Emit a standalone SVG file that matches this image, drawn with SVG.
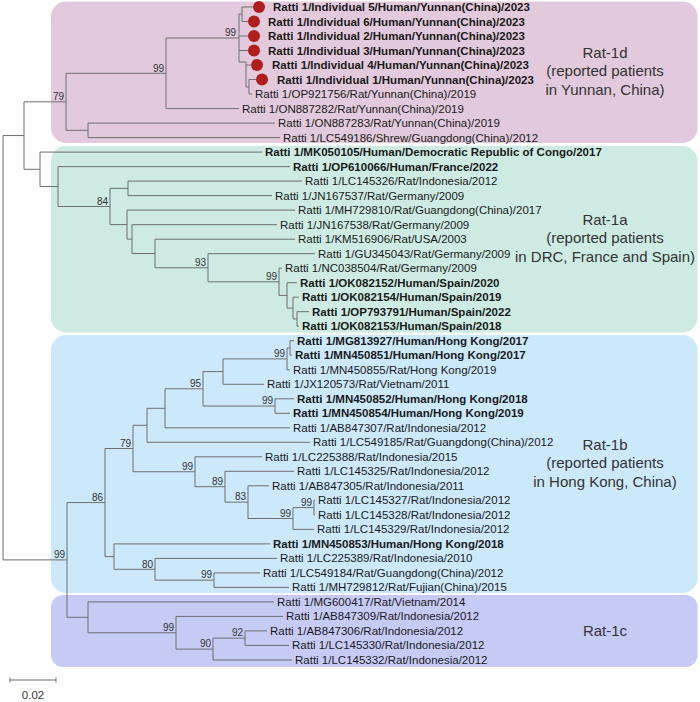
<svg xmlns="http://www.w3.org/2000/svg" width="700" height="702" viewBox="0 0 700 702">
<style>
text{font-family:"Liberation Sans",Arial,sans-serif}
.lf{font-size:11.5px;fill:#1a1a1a}
.b{font-weight:bold}
.bs{font-size:10px;fill:#333;text-anchor:end}
.lab{font-size:15px;fill:#333;text-anchor:middle}
.br{stroke:#6e6e6e;stroke-width:1;fill:none}
.dot{fill:#b11d1d}
</style>
<g id="clades">
<g id="rat1d"><rect x="51" y="1.5" width="646.5" height="141.5" rx="15" fill="#e2cadc"/>
<text class="lab" x="605" y="57.5">Rat-1d</text><text class="lab" x="605" y="76">(reported patients</text><text class="lab" x="605" y="94.5">in Yunnan, China)</text></g>
<g id="rat1a"><rect x="51" y="146" width="646.5" height="186.5" rx="15" fill="#cdebe3"/>
<text class="lab" x="605" y="224.5">Rat-1a</text><text class="lab" x="605" y="243">(reported patients</text><text class="lab" x="605" y="261.5">in DRC, France and Spain)</text></g>
<g id="rat1b"><rect x="51" y="335" width="646.5" height="258" rx="15" fill="#cce8fb"/>
<text class="lab" x="605" y="449.5">Rat-1b</text><text class="lab" x="605" y="468">(reported patients</text><text class="lab" x="605" y="486.5">in Hong Kong, China)</text></g>
<g id="rat1c"><rect x="51" y="595" width="646.5" height="72" rx="12" fill="#c6cbf6"/>
<text class="lab" x="605" y="635.5">Rat-1c</text></g>
</g>
<g id="connectors" class="br">
<path d="M3 135.55V559.9M24 101.8V169.3M66 73.3V130.35M166 38V108.6M239 14V62M242 7V21.5M246 62V87M249 79.5V94M88 123.1V137.6M40 152.1V186.55M58 166.6V206.5M110 188.35V224.6M128 181.1V195.6M127 210.1V239.1M132 224.7V253.5M155 239.2V267.75M208 253.7V281.8M279 268.2V295.4M287 282.7V308.1M293 297.2V318.95M297 311.7V326.2"/>
<path d="M67 502.55V617.3M105 448.5V556.6M133 425.3V471.75M147 408.3V442.3M165 388.8V427.8M203 371.6V406.05M223 358.9V384.3M287 348V369.8M290 340.7V355.2M275 398.8V413.3M195 456.8V486.7M225 471.3V502.15M248 485.8V518.5M293 507.6V529.4M314 500.3V514.9M114 543.9V569.3M155 558.4V580.15M214 572.9V587.4M88 601.9V632.75M176 616.4V649.1M213 638.15V660M245 630.9V645.4"/>
<path d="M3 135.55H24M3 559.9H67M24 101.8H66M24 169.3H40M66 73.3H166M66 130.35H88M166 38H239M239 14H242M239 62H246M246 87H249M40 186.55H58M58 206.5H110M110 188.35H128M110 224.6H127M127 239.1H132M132 253.5H155M155 267.75H208M208 281.8H279M279 295.4H287M287 308.1H293M293 318.95H297"/>
<path d="M67 502.55H105M67 617.3H88M105 448.5H133M105 556.6H114M133 425.3H147M133 471.75H195M147 408.3H165M165 388.8H203M203 371.6H223M203 406.05H275M223 358.9H287M287 348H290M195 486.7H225M225 502.15H248M248 518.5H293M293 507.6H314M114 569.3H155M155 580.15H214M88 632.75H176M176 649.1H213M213 638.15H245"/>
<path d="M242 7H253M242 21.5H248M239 36H248M239 50.5H248M246 65H251M249 79.5H256M249 94H252M166 108.6H239M88 123.1H275M88 137.6H280M40 152.1H262M58 166.6H290M128 181.1H302M128 195.6H272M127 210.1H295M132 224.7H277M155 239.2H295M208 253.7H315M279 268.2H282M287 282.7H297M293 297.2H299M297 311.7H309M297 326.2H299"/>
<path d="M290 340.7H294M290 355.2H292M287 369.8H290M223 384.3H264M275 398.8H294M275 413.3H290M165 427.8H290M147 442.3H310M195 456.8H262M225 471.3H294M248 485.8H269M314 500.3H315M314 514.9H315M293 529.4H314M114 543.9H270M155 558.4H277M214 572.9H260M214 587.4H289M88 601.9H274M176 616.4H283M245 630.9H267M245 645.4H289M213 660H292"/>
</g>
<g id="bootstrap">
<text class="bs" x="64" y="100">79</text><text class="bs" x="164" y="71.5">99</text><text class="bs" x="236" y="36">99</text>
<text class="bs" x="108" y="204.5">84</text><text class="bs" x="206" y="266">93</text><text class="bs" x="277" y="280">99</text>
<text class="bs" x="285" y="357">99</text><text class="bs" x="201" y="387">95</text><text class="bs" x="273" y="404">99</text>
<text class="bs" x="131" y="446.5">79</text><text class="bs" x="193" y="470">99</text><text class="bs" x="223" y="485">89</text>
<text class="bs" x="246" y="500">83</text><text class="bs" x="291" y="516.5">99</text><text class="bs" x="312" y="505.5">99</text>
<text class="bs" x="103" y="500.5">86</text><text class="bs" x="65" y="558">99</text><text class="bs" x="153" y="567.5">80</text>
<text class="bs" x="212" y="578">99</text><text class="bs" x="174" y="631">99</text><text class="bs" x="211" y="647">90</text><text class="bs" x="243" y="636">92</text>
</g>
<g id="leaves">
<g id="l1"><circle class="dot" cx="259" cy="7" r="6"/><text class="lf b" x="273" y="11">Ratti 1/Individual 5/Human/Yunnan(China)/2023</text></g>
<g id="l2"><circle class="dot" cx="254" cy="21.5" r="6"/><text class="lf b" x="268" y="25.5">Ratti 1/Individual 6/Human/Yunnan(China)/2023</text></g>
<g id="l3"><circle class="dot" cx="254" cy="36" r="6"/><text class="lf b" x="268" y="40">Ratti 1/Individual 2/Human/Yunnan(China)/2023</text></g>
<g id="l4"><circle class="dot" cx="254" cy="50.5" r="6"/><text class="lf b" x="268" y="54.5">Ratti 1/Individual 3/Human/Yunnan(China)/2023</text></g>
<g id="l5"><circle class="dot" cx="257" cy="65" r="6"/><text class="lf b" x="272" y="69">Ratti 1/Individual 4/Human/Yunnan(China)/2023</text></g>
<g id="l6"><circle class="dot" cx="262" cy="79.5" r="6"/><text class="lf b" x="277" y="83.5">Ratti 1/Individual 1/Human/Yunnan(China)/2023</text></g>
<g id="l7"><text class="lf" x="255" y="98">Ratti 1/OP921756/Rat/Yunnan(China)/2019</text></g>
<g id="l8"><text class="lf" x="242" y="112.6">Ratti 1/ON887282/Rat/Yunnan(China)/2019</text></g>
<g id="l9"><text class="lf" x="278" y="127.1">Ratti 1/ON887283/Rat/Yunnan(China)/2019</text></g>
<g id="l10"><text class="lf" x="283" y="141.6">Ratti 1/LC549186/Shrew/Guangdong(China)/2012</text></g>
<g id="l11"><text class="lf b" x="265" y="156.1">Ratti 1/MK050105/Human/Democratic Republic of Congo/2017</text></g>
<g id="l12"><text class="lf b" x="293" y="170.6">Ratti 1/OP610066/Human/France/2022</text></g>
<g id="l13"><text class="lf" x="305" y="185.1">Ratti 1/LC145326/Rat/Indonesia/2012</text></g>
<g id="l14"><text class="lf" x="275" y="199.6">Ratti 1/JN167537/Rat/Germany/2009</text></g>
<g id="l15"><text class="lf" x="298" y="214.1">Ratti 1/MH729810/Rat/Guangdong(China)/2017</text></g>
<g id="l16"><text class="lf" x="280" y="228.7">Ratti 1/JN167538/Rat/Germany/2009</text></g>
<g id="l17"><text class="lf" x="298" y="243.2">Ratti 1/KM516906/Rat/USA/2003</text></g>
<g id="l18"><text class="lf" x="318" y="257.7">Ratti 1/GU345043/Rat/Germany/2009</text></g>
<g id="l19"><text class="lf" x="285" y="272.2">Ratti 1/NC038504/Rat/Germany/2009</text></g>
<g id="l20"><text class="lf b" x="300" y="286.7">Ratti 1/OK082152/Human/Spain/2020</text></g>
<g id="l21"><text class="lf b" x="302" y="301.2">Ratti 1/OK082154/Human/Spain/2019</text></g>
<g id="l22"><text class="lf b" x="312" y="315.7">Ratti 1/OP793791/Human/Spain/2022</text></g>
<g id="l23"><text class="lf b" x="302" y="330.2">Ratti 1/OK082153/Human/Spain/2018</text></g>
<g id="l24"><text class="lf b" x="297" y="344.7">Ratti 1/MG813927/Human/Hong Kong/2017</text></g>
<g id="l25"><text class="lf b" x="295" y="359.2">Ratti 1/MN450851/Human/Hong Kong/2017</text></g>
<g id="l26"><text class="lf" x="293" y="373.8">Ratti 1/MN450855/Rat/Hong Kong/2019</text></g>
<g id="l27"><text class="lf" x="267" y="388.3">Ratti 1/JX120573/Rat/Vietnam/2011</text></g>
<g id="l28"><text class="lf b" x="297" y="402.8">Ratti 1/MN450852/Human/Hong Kong/2018</text></g>
<g id="l29"><text class="lf b" x="293" y="417.3">Ratti 1/MN450854/Human/Hong Kong/2019</text></g>
<g id="l30"><text class="lf" x="293" y="431.8">Ratti 1/AB847307/Rat/Indonesia/2012</text></g>
<g id="l31"><text class="lf" x="313" y="446.3">Ratti 1/LC549185/Rat/Guangdong(China)/2012</text></g>
<g id="l32"><text class="lf" x="265" y="460.8">Ratti 1/LC225388/Rat/Indonesia/2015</text></g>
<g id="l33"><text class="lf" x="297" y="475.3">Ratti 1/LC145325/Rat/Indonesia/2012</text></g>
<g id="l34"><text class="lf" x="272" y="489.8">Ratti 1/AB847305/Rat/Indonesia/2011</text></g>
<g id="l35"><text class="lf" x="318" y="504.3">Ratti 1/LC145327/Rat/Indonesia/2012</text></g>
<g id="l36"><text class="lf" x="318" y="518.9">Ratti 1/LC145328/Rat/Indonesia/2012</text></g>
<g id="l37"><text class="lf" x="317" y="533.4">Ratti 1/LC145329/Rat/Indonesia/2012</text></g>
<g id="l38"><text class="lf b" x="273" y="547.9">Ratti 1/MN450853/Human/Hong Kong/2018</text></g>
<g id="l39"><text class="lf" x="280" y="562.4">Ratti 1/LC225389/Rat/Indonesia/2010</text></g>
<g id="l40"><text class="lf" x="263" y="576.9">Ratti 1/LC549184/Rat/Guangdong(China)/2012</text></g>
<g id="l41"><text class="lf" x="292" y="591.4">Ratti 1/MH729812/Rat/Fujian(China)/2015</text></g>
<g id="l42"><text class="lf" x="277" y="605.9">Ratti 1/MG600417/Rat/Vietnam/2014</text></g>
<g id="l43"><text class="lf" x="286" y="620.4">Ratti 1/AB847309/Rat/Indonesia/2012</text></g>
<g id="l44"><text class="lf" x="270" y="634.9">Ratti 1/AB847306/Rat/Indonesia/2012</text></g>
<g id="l45"><text class="lf" x="292" y="649.4">Ratti 1/LC145330/Rat/Indonesia/2012</text></g>
<g id="l46"><text class="lf" x="295" y="664">Ratti 1/LC145332/Rat/Indonesia/2012</text></g>
</g>
<g id="scale">
<path class="br" d="M10 680H56M10 677.5V682.5M56 677.5V682.5"/>
<text class="lf" x="33" y="699" text-anchor="middle" style="fill:#333">0.02</text>
</g>
</svg>
